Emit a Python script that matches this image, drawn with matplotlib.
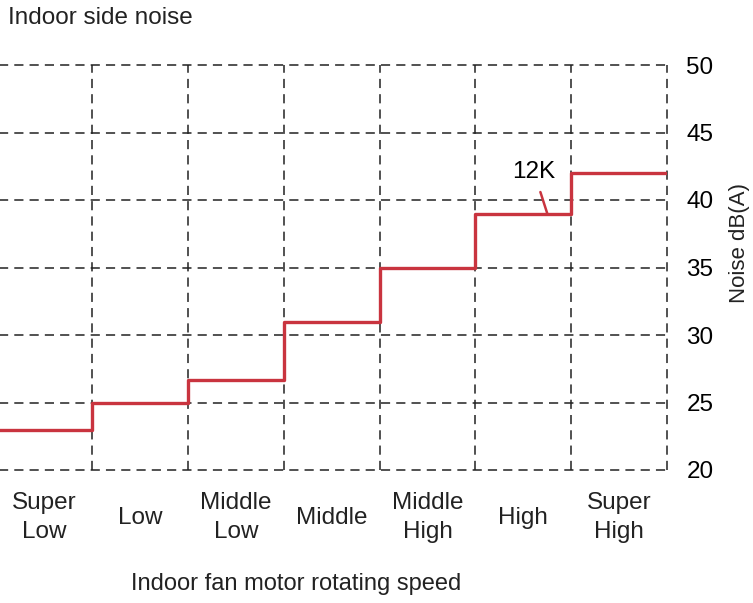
import numpy as np
import matplotlib
matplotlib.use("Agg")
import matplotlib.pyplot as plt

plt.rcParams["font.family"] = ["Liberation Sans", "DejaVu Sans"]

# speed steps and measured noise (dB(A)) for the 12K unit
speeds = ["Super\nLow", "Low", "Middle\nLow", "Middle", "Middle\nHigh", "High", "Super\nHigh"]
noise_12k = [23.0, 25.0, 26.7, 31.0, 35.0, 39.0, 42.0]
y_ticks = [20, 25, 30, 35, 40, 45, 50]

RED = "#c9343f"
GRID = "#222222"

W, H = 753, 603
fig = plt.figure(figsize=(W / 100, H / 100), dpi=100)
# axes box in pixel terms (left edge slightly off-canvas like the source)
left, right, top, bottom = -3.5, 667, 65, 470
ax = fig.add_axes([left / W, 1 - bottom / H, (right - left) / W, (bottom - top) / H])

n = len(speeds)
edges = np.arange(n + 1)
ax.step(edges, noise_12k + [noise_12k[-1]], where="post", color=RED, lw=2.4, zorder=3)

ax.set_xlim(0, n)
ax.set_ylim(y_ticks[0], y_ticks[-1])

# dashed frame + grid
for y in y_ticks:
    ax.axhline(y, color=GRID, lw=1.1, ls=(0, (6, 4)), clip_on=False, zorder=1)
for x in edges:
    ax.axvline(x, color=GRID, lw=1.1, ls=(0, (6, 4)), clip_on=False, zorder=1)
for s in ax.spines.values():
    s.set_visible(False)

ax.set_xticks([])
ax.yaxis.tick_right()
ax.set_yticks(y_ticks)
ax.tick_params(axis="y", length=0, pad=14, labelsize=17.5)

# category labels under each cell
for i, lab in enumerate(speeds):
    ax.text(i + 0.5, -0.118, lab, transform=ax.get_xaxis_transform(),
            ha="center", va="center", fontsize=17.5, color="#222222", linespacing=1.4)

# 12K callout
ax.annotate("12K", xy=(5.75, noise_12k[5]), xytext=(5.61, 42.1),
            ha="center", va="center", fontsize=17.5,
            arrowprops=dict(arrowstyle="-", color=RED, lw=1.8, shrinkA=5, shrinkB=0))

fig.text(8 / W, 1 - 18 / H, "Indoor side noise", ha="left", va="center",
         fontsize=17.5, color="#222222")
fig.text(296 / W, 1 - 584 / H, "Indoor fan motor rotating speed", ha="center",
         va="center", fontsize=17, color="#222222")
fig.text(740 / W, 1 - 243 / H, "Noise dB(A)", rotation=90, ha="center",
         va="center", fontsize=16, color="#222222")

fig.savefig("out.png", dpi=100)
